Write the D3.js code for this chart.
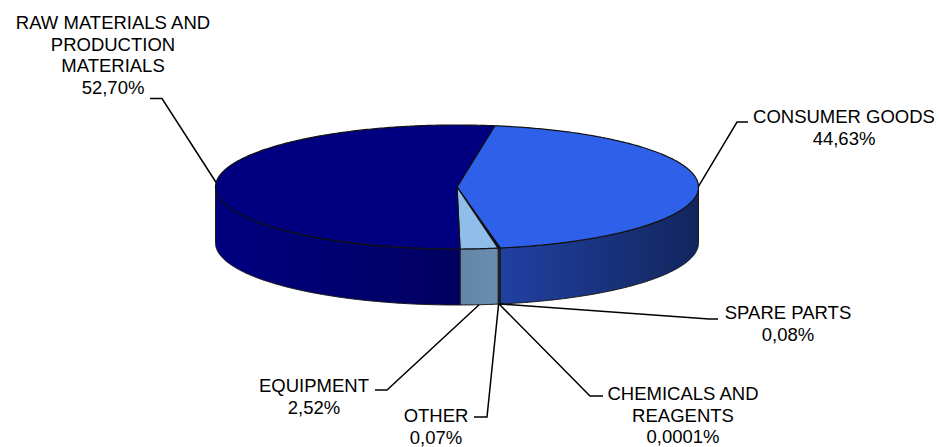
<!DOCTYPE html>
<html>
<head>
<meta charset="utf-8">
<script src="https://cdn.jsdelivr.net/npm/d3@7"></script>
<style>
  body { margin: 0; background: #fff; }
  text { font-family: "Liberation Sans", Arial, sans-serif; font-size: 18.5px; fill: #000; }
</style>
</head>
<body>
<div id="chart"></div>
<script>
//categories and shares (%), clockwise from the top
var categories = ["CONSUMER GOODS", "SPARE PARTS", "CHEMICALS AND REAGENTS", "OTHER", "EQUIPMENT", "RAW MATERIALS AND PRODUCTION MATERIALS"];
var shares = [44.63, 0.08, 0.0001, 0.07, 2.52, 52.70];
var shareLabels = ["44,63%", "0,08%", "0,0001%", "0,07%", "2,52%", "52,70%"];

//label line breaks
var labelLines = [
    ["CONSUMER GOODS"],
    ["SPARE PARTS"],
    ["CHEMICALS AND", "REAGENTS"],
    ["OTHER"],
    ["EQUIPMENT"],
    ["RAW MATERIALS AND", "PRODUCTION", "MATERIALS"]
];

//colors per slice: top face, side gradient start, side gradient end
var topColors = ["#2f60ea", "#4a78e0", "#6a8fd8", "#7fa6e6", "#8fbeeb", "#000080"];
var sideFrom = ["#2141a2", "#2a4aa8", "#3a5bb0", "#5a7ca0", "#6385a8", "#000080"];
var sideTo = ["#12255c", "#1a3070", "#2a4a90", "#5a7ca0", "#6b8db0", "#000060"];

//svg dimensions
var svgWidth = 939;
var svgHeight = 447;

//pie geometry
var cx = 457, cy = 187, rx = 241.5, ry = 62, depth = 56;
var startDeg = 9;

//label layout: text center x, first line center y, leader elbow and end
var labelLayout = [
    {x: 844, y: 117, elbow: [737, 122], end: [748, 122]},
    {x: 788, y: 313, elbow: [709, 319], end: [718, 319]},
    {x: 683, y: 394, elbow: [590, 396], end: [603, 396]},
    {x: 436, y: 416, elbow: [487, 417], end: [474, 417]},
    {x: 314, y: 386, elbow: [387, 390], end: [375, 390]},
    {x: 113, y: 23, elbow: [162, 98.5], end: [150, 98.5]}
];
var lineStep = 21.5;

var svg = d3.select("#chart").append("svg")
    .attr("width", svgWidth)
    .attr("height", svgHeight);

var defs = svg.append("defs");

var data = categories.map(function(c, i) { return {name: c, value: shares[i], i: i}; });

var pie = d3.pie()
    .sort(null)
    .value(d => d.value)
    .startAngle(startDeg * Math.PI / 180)
    .endAngle(startDeg * Math.PI / 180 + 2 * Math.PI);

var slices = pie(data);

//point on ellipse, angle clockwise from top
function pt(a, dy) {
    return [cx + rx * Math.sin(a), cy - ry * Math.cos(a) + (dy || 0)];
}

function arcPoints(a0, a1, dy) {
    var n = Math.max(2, Math.ceil(Math.abs(a1 - a0) / 0.01));
    var pts = [];
    for (var k = 0; k <= n; k++) {
        pts.push(pt(a0 + (a1 - a0) * k / n, dy));
    }
    return pts;
}

var line = d3.line();

//visible front part of a slice side
function sideRange(s) {
    var lo = Math.PI / 2, hi = 3 * Math.PI / 2;
    var out = [];
    [0, 2 * Math.PI, -2 * Math.PI].forEach(function(off) {
        var a0 = Math.max(s.startAngle, lo + off);
        var a1 = Math.min(s.endAngle, hi + off);
        if (a1 > a0) out.push([a0, a1]);
    });
    return out;
}

//gradients for side faces
slices.forEach(function(s, i) {
    var g = defs.append("linearGradient")
        .attr("id", "side" + i)
        .attr("x1", "0").attr("x2", "1").attr("y1", "0").attr("y2", "0");
    g.append("stop").attr("offset", "0").attr("stop-color", sideFrom[i]);
    g.append("stop").attr("offset", "1").attr("stop-color", sideTo[i]);
});

//side faces
var sides = svg.append("g");
slices.forEach(function(s, i) {
    sideRange(s).forEach(function(r) {
        var top = arcPoints(r[0], r[1], 0);
        var bot = arcPoints(r[1], r[0], depth);
        sides.append("path")
            .attr("d", line(top.concat(bot)) + "Z")
            .attr("fill", "url(#side" + i + ")")
            .attr("stroke", "#1a1a1a")
            .attr("stroke-width", 1)
            .attr("stroke-linejoin", "round");
    });
});

//top faces
var tops = svg.append("g");
slices.forEach(function(s, i) {
    var pts = [[cx, cy]].concat(arcPoints(s.startAngle, s.endAngle, 0));
    tops.append("path")
        .attr("d", line(pts) + "Z")
        .attr("fill", topColors[i])
        .attr("stroke", "#111")
        .attr("stroke-width", 1.2)
        .attr("stroke-linejoin", "round");
});

//leader lines and labels
var labels = svg.append("g");
slices.forEach(function(s, i) {
    var mid = (s.startAngle + s.endAngle) / 2;
    var front = Math.cos(mid) < 0;
    var anchor = pt(mid, front ? depth : 0);
    var lay = labelLayout[i];

    labels.append("path")
        .attr("d", line([anchor, lay.elbow, lay.end]))
        .attr("fill", "none")
        .attr("stroke", "#000")
        .attr("stroke-width", 1.5);

    var lines = labelLines[i].concat([shareLabels[i]]);
    lines.forEach(function(t, k) {
        labels.append("text")
            .attr("x", lay.x)
            .attr("y", lay.y + k * lineStep)
            .attr("dy", "0.35em")
            .attr("text-anchor", "middle")
            .text(t);
    });
});
</script>
</body>
</html>
